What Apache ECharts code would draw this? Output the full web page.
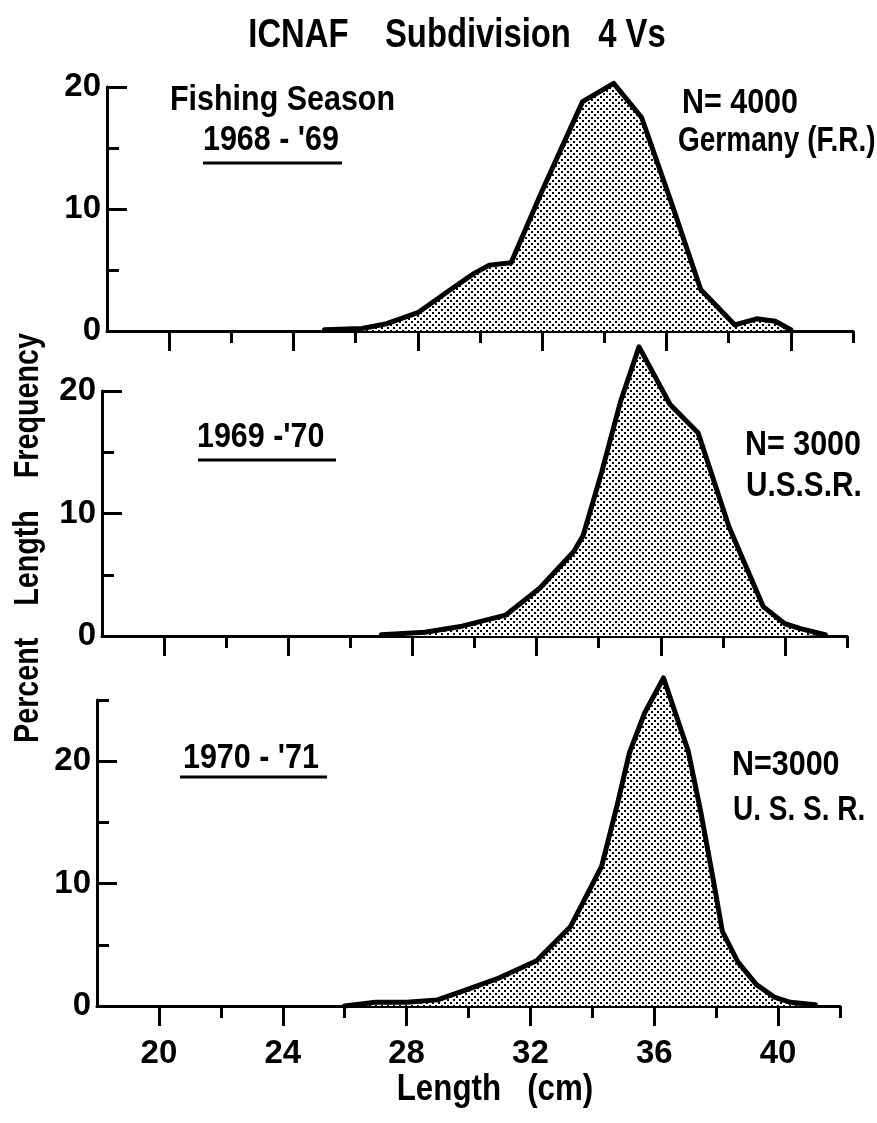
<!DOCTYPE html>
<html>
<head>
<meta charset="utf-8">
<script src="https://cdn.jsdelivr.net/npm/echarts@6/dist/echarts.min.js"></script>
<style>
  html, body { margin: 0; padding: 0; background: #fff; }
  #chart { width: 877px; height: 1123px; }
</style>
</head>
<body>
<div id="chart"></div>
<script>
// ---- data (length in cm, percent frequency) ----
const len6869 = [25.0, 26.2, 27.0, 28.0, 29.0, 29.8, 30.3, 31.0, 32.0, 33.3, 34.3, 35.2, 36.2, 37.1, 38.2, 38.9, 39.5, 40.0];
const pct6869 = [0.1, 0.2, 0.6, 1.5, 3.3, 4.7, 5.4, 5.6, 11.5, 18.8, 20.3, 17.5, 10.2, 3.4, 0.5, 1.0, 0.8, 0.1];

const len6970 = [27.0, 28.4, 29.6, 31.0, 32.1, 33.2, 33.5, 34.1, 34.7, 35.3, 36.3, 37.2, 38.2, 39.3, 40.0, 40.5, 41.3];
const pct6970 = [0.1, 0.3, 0.8, 1.7, 3.9, 6.9, 8.2, 13.4, 19.1, 23.6, 18.9, 16.6, 8.9, 2.4, 1.0, 0.6, 0.1];

const len7071 = [26.0, 27.0, 28.0, 29.0, 29.9, 31.0, 32.2, 33.3, 34.3, 34.8, 35.2, 35.7, 36.3, 37.1, 37.5, 37.9, 38.2, 38.7, 39.3, 39.9, 40.4, 41.2];
const pct7071 = [0.0, 0.3, 0.3, 0.5, 1.3, 2.3, 3.7, 6.5, 11.4, 16.4, 20.7, 24.0, 26.8, 20.8, 15.9, 10.4, 6.1, 3.6, 1.75, 0.7, 0.3, 0.1];

const xMajorTicks = [20, 24, 28, 32, 36, 40];
const xMinorTicks = [22, 26, 30, 34, 38, 42];
const yMajorTicks = [0, 10, 20];
const yMinorTicks20 = [5, 15];
const yMinorTicks25 = [5, 15, 25];

const panelYMax = [20, 20, 25];
const seasons = ["1968 - '69", "1969 -'70", "1970 - '71"];
const sampleN = ["N= 4000", "N= 3000", "N=3000"];
const countries = ["Germany (F.R.)", "U.S.S.R.", "U. S. S. R."];
const titleText = "ICNAF    Subdivision   4 Vs";
const yName = "Percent    Length    Frequency";
const xName = "Length   (cm)";

// ---- styles ----
const FONT = "'Liberation Sans', Arial, sans-serif";
const INK = '#000';

function stipple() {
  const c = document.createElement('canvas');
  c.width = 6; c.height = 6;
  const g = c.getContext('2d');
  g.fillStyle = '#fff'; g.fillRect(0, 0, 6, 6);
  g.fillStyle = '#000';
  g.fillRect(0, 0, 2, 2);
  g.fillRect(3, 3, 2, 2);
  return c;
}
const pattern = { image: stipple(), repeat: 'repeat' };

const grids = [
  { left: 107, right: 24, top: 87, height: 244 },
  { left: 102, right: 30, top: 391, height: 245 },
  { left: 97, right: 37, top: 700, height: 306 }
];

const xAxes = [], yAxes = [], series = [];
const lens = [len6869, len6970, len7071];
const pcts = [pct6869, pct6970, pct7071];

grids.forEach((g, i) => {
  const showLabels = (i === 2);
  xAxes.push({
    type: 'value', gridIndex: i, min: 18, max: 42, position: 'bottom',
    axisLine: { show: true, lineStyle: { color: INK, width: 3 } },
    axisTick: { show: true, customValues: xMajorTicks, length: 20, inside: false, lineStyle: { color: INK, width: 3 } },
    axisLabel: { show: showLabels, customValues: xMajorTicks, margin: 31, color: INK,
      fontFamily: FONT, fontWeight: 'bold', fontSize: 33 },
    splitLine: { show: false }
  });
  xAxes.push({
    type: 'value', gridIndex: i, min: 18, max: 42, position: 'bottom',
    axisLine: { show: false },
    axisTick: { show: true, customValues: xMinorTicks, length: 12, inside: false, lineStyle: { color: INK, width: 3 } },
    axisLabel: { show: false },
    splitLine: { show: false }
  });
  yAxes.push({
    type: 'value', gridIndex: i, min: 0, max: panelYMax[i], position: 'left',
    axisLine: { show: true, lineStyle: { color: INK, width: 3 } },
    axisTick: { show: true, customValues: yMajorTicks.filter(v => v > 0 && v <= panelYMax[i]), length: 20, inside: true, lineStyle: { color: INK, width: 3 } },
    axisLabel: { show: true, customValues: yMajorTicks.filter(v => v <= panelYMax[i]), margin: 6, color: INK,
      fontFamily: FONT, fontWeight: 'bold', fontSize: 33 },
    splitLine: { show: false }
  });
  yAxes.push({
    type: 'value', gridIndex: i, min: 0, max: panelYMax[i], position: 'left',
    axisLine: { show: false },
    axisTick: { show: true, customValues: panelYMax[i] === 25 ? yMinorTicks25 : yMinorTicks20, length: 12, inside: true, lineStyle: { color: INK, width: 3 } },
    axisLabel: { show: false },
    splitLine: { show: false }
  });
  series.push({
    type: 'line', xAxisIndex: i * 2, yAxisIndex: i * 2,
    data: lens[i].map((x, k) => [x, pcts[i][k]]),
    symbol: 'none', clip: false, smooth: false,
    lineStyle: { color: INK, width: 5, join: 'round', cap: 'round' },
    areaStyle: { color: pattern, opacity: 1 },
    z: 3
  });
});

function txt(text, x, y, size, sx, align, extra) {
  return Object.assign({
    type: 'text', x: x, y: y, z: 10, scaleX: sx, scaleY: 1,
    style: {
      text: text, fill: INK,
      font: 'bold ' + size + 'px ' + FONT,
      textAlign: align || 'left', textVerticalAlign: 'middle',
      align: align || 'left', verticalAlign: 'middle'
    }
  }, extra || {});
}
function uline(x1, x2, y) {
  return { type: 'line', z: 10, shape: { x1: x1, y1: y, x2: x2, y2: y }, style: { stroke: INK, lineWidth: 3 } };
}

const ANN = 0.87;
const graphics = [
  txt(titleText, 457, 36, 40, 0.82, 'center'),
  txt(yName, 28, 538, 35, 0.82, 'center', { rotation: Math.PI / 2 }),
  txt(xName, 495, 1090, 36, 0.87, 'center'),
  // top panel
  txt('Fishing Season', 170, 100, 35, ANN),
  txt(seasons[0], 203, 140, 35, ANN),
  uline(203, 342, 163),
  txt(sampleN[0], 682, 103, 35, ANN),
  txt(countries[0], 678, 141, 35, 0.8),
  // middle panel
  txt(seasons[1], 197, 437, 35, ANN),
  uline(198, 336, 460),
  txt(sampleN[1], 745, 445, 35, ANN),
  txt(countries[1], 746, 486, 35, 0.85),
  // bottom panel
  txt(seasons[2], 183, 758, 35, ANN),
  uline(180, 327, 777),
  txt(sampleN[2], 732, 765, 35, ANN),
  txt(countries[2], 733, 810, 35, 0.8)
];

const chart = echarts.init(document.getElementById('chart'), null, { renderer: 'canvas' });
chart.setOption({
  animation: false,
  backgroundColor: '#fff',
  grid: grids,
  xAxis: xAxes,
  yAxis: yAxes,
  series: series,
  graphic: graphics
});
</script>
</body>
</html>
